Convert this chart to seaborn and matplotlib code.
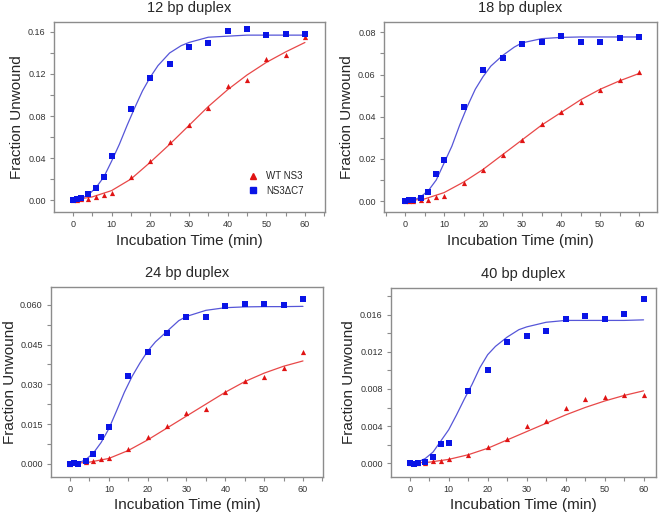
import numpy as np
import pandas as pd
import matplotlib
matplotlib.use("Agg")
import matplotlib.pyplot as plt
from matplotlib.ticker import MultipleLocator, FormatStrFormatter
from matplotlib.lines import Line2D
import seaborn as sns

# measured time points (min)
times = [0, 1, 2, 4, 6, 8, 10, 15, 20, 25, 30, 35, 40, 45, 50, 55, 60]

# fraction unwound
wt_12 = [0.0, 0.0003, 0.0006, 0.0013, 0.0025, 0.0044, 0.0063, 0.022, 0.0375, 0.055,
         0.071, 0.0876, 0.109, 0.114, 0.134, 0.138, 0.155]
dc7_12 = [0.0, 0.001, 0.002, 0.0057, 0.0114, 0.022, 0.042, 0.087, 0.116, 0.1295,
          0.1454, 0.1498, 0.1613, 0.1632, 0.1568, 0.1584, 0.1578]
wt_18 = [0.0, 0.0002, 0.0002, 0.0003, 0.0003, 0.0017, 0.0022, 0.0084, 0.0147, 0.0218,
         0.0288, 0.0367, 0.0424, 0.047, 0.0528, 0.0574, 0.0612]
dc7_18 = [0.0, 0.0003, 0.0003, 0.0016, 0.0044, 0.013, 0.0196, 0.0444, 0.0621, 0.0678,
          0.0746, 0.0756, 0.0784, 0.0756, 0.0754, 0.0772, 0.0776]
wt_24 = [0.0, 0.0005, 0.0004, 0.0008, 0.0011, 0.0019, 0.0023, 0.0055, 0.0101, 0.0141,
         0.0192, 0.0208, 0.027, 0.0311, 0.0328, 0.0361, 0.0421]
dc7_24 = [0.0, 0.0004, 0.0, 0.0011, 0.0036, 0.0101, 0.0138, 0.0332, 0.0423, 0.0493,
          0.0555, 0.0553, 0.0595, 0.0604, 0.0603, 0.060, 0.062]
wt_40 = [0.0, 0.0, 0.0, 0.00004, 0.0002, 0.0002, 0.0004, 0.0009, 0.0017, 0.0026,
         0.004, 0.0045, 0.0059, 0.0069, 0.0071, 0.0074, 0.0073]
dc7_40 = [0.0, -0.00014, 0.0, 0.0001, 0.0007, 0.0021, 0.0022, 0.0078, 0.010, 0.0131,
          0.0137, 0.0143, 0.0155, 0.0159, 0.0156, 0.0161, 0.0177]

# fitted curves
fit_t_fast = [0, 2, 4, 6, 8, 10, 12, 14, 16, 18, 20, 22, 25, 28, 30, 35, 40, 45, 50, 55, 60]
fit_t_slow = [0, 5, 10, 15, 20, 25, 30, 35, 40, 45, 50, 55, 60]

dc7_fit_12 = [0.0, 0.001, 0.005, 0.012, 0.022, 0.037, 0.053, 0.071, 0.088, 0.104, 0.117,
              0.128, 0.140, 0.147, 0.150, 0.155, 0.156, 0.157, 0.157, 0.157, 0.157]
wt_fit_12 = [0.0, 0.003, 0.009, 0.020, 0.036, 0.053, 0.071, 0.089, 0.105, 0.119, 0.131,
             0.141, 0.150]
dc7_fit_18 = [0.0, 0.0002, 0.002, 0.005, 0.010, 0.018, 0.026, 0.036, 0.045, 0.053, 0.059,
              0.064, 0.069, 0.073, 0.075, 0.077, 0.0776, 0.0778, 0.0778, 0.0778, 0.0778]
wt_fit_18 = [0.0, 0.001, 0.004, 0.009, 0.015, 0.022, 0.029, 0.036, 0.042, 0.048, 0.053,
             0.057, 0.0605]
dc7_fit_24 = [0.0, 0.0002, 0.0015, 0.004, 0.008, 0.0132, 0.020, 0.027, 0.033, 0.038, 0.0425,
              0.046, 0.050, 0.054, 0.0556, 0.0579, 0.0589, 0.0592, 0.0593, 0.0593, 0.0594]
wt_fit_24 = [0.0, 0.0006, 0.002, 0.005, 0.009, 0.0135, 0.018, 0.0225, 0.027, 0.031, 0.0342,
             0.0368, 0.0388]
dc7_fit_40 = [0.0, 0.0001, 0.0005, 0.0012, 0.0024, 0.0036, 0.0052, 0.0069, 0.0085, 0.0103,
              0.0117, 0.0126, 0.0136, 0.0144, 0.0147, 0.0152, 0.0154, 0.0154, 0.0154, 0.0154,
              0.01546]
wt_fit_40 = [0.0, 0.0001, 0.0004, 0.0009, 0.0016, 0.0025, 0.0034, 0.0043, 0.0052, 0.006,
             0.0067, 0.0073, 0.0078]

titles = ["12 bp duplex", "18 bp duplex", "24 bp duplex", "40 bp duplex"]
y_steps = [0.04, 0.02, 0.015, 0.004]
y_fmt = ["%.2f", "%.2f", "%.3f", "%.3f"]
y_lims = [(-0.0114, 0.1695), (-0.0052, 0.0849), (-0.005, 0.0667), (-0.0015, 0.0189)]
x_lims = [(-4.9, 65.2), (-5.4, 64.6), (-4.9, 65.15), (-4.8, 63.2)]
# axes boxes in figure fractions: left, bottom, width, height
boxes = [(0.0813, 0.5875, 0.4082, 0.3697), (0.5783, 0.5875, 0.4112, 0.3697),
         (0.0768, 0.0720, 0.4096, 0.3696), (0.5889, 0.0720, 0.3991, 0.3677)]

wt_pts = [wt_12, wt_18, wt_24, wt_40]
dc7_pts = [dc7_12, dc7_18, dc7_24, dc7_40]
wt_fits = [wt_fit_12, wt_fit_18, wt_fit_24, wt_fit_40]
dc7_fits = [dc7_fit_12, dc7_fit_18, dc7_fit_24, dc7_fit_40]

sns.set_style("white")
plt.rcParams["font.family"] = ["Liberation Sans", "DejaVu Sans"]

red_pt, blue_pt = "#e01414", "#0a14e6"
red_ln, blue_ln = "#e84848", "#5656d8"
spine_c = "#8c8c8c"

fig = plt.figure(figsize=(6.64, 5.14), dpi=100)

for i in range(4):
    ax = fig.add_axes(boxes[i])
    sns.lineplot(x=fit_t_slow, y=wt_fits[i], ax=ax, color=red_ln, lw=0.9)
    sns.lineplot(x=fit_t_fast, y=dc7_fits[i], ax=ax, color=blue_ln, lw=0.9)
    sns.scatterplot(x=times, y=wt_pts[i], ax=ax, marker="^", s=14, color=red_pt,
                    edgecolor=red_pt, linewidth=0, zorder=3)
    sns.scatterplot(x=times, y=dc7_pts[i], ax=ax, marker="s", s=17, color=blue_pt,
                    edgecolor=blue_pt, linewidth=0, zorder=3)

    ax.set_xlim(x_lims[i])
    ax.set_ylim(y_lims[i])
    ax.xaxis.set_major_locator(MultipleLocator(10))
    ax.xaxis.set_minor_locator(MultipleLocator(5))
    ax.yaxis.set_major_locator(MultipleLocator(y_steps[i]))
    ax.yaxis.set_minor_locator(MultipleLocator(y_steps[i] / 2))
    ax.yaxis.set_major_formatter(FormatStrFormatter(y_fmt[i]))

    for sp in ax.spines.values():
        sp.set_color(spine_c)
        sp.set_linewidth(1.0)
    ax.tick_params(axis="both", which="both", direction="out", color=spine_c,
                   length=3, width=0.8, labelsize=6.5, labelcolor="#333333", pad=3)
    ax.tick_params(bottom=True, left=True, top=False, right=False, which="both")

    ax.set_title(titles[i], fontsize=10.5, pad=7)
    ax.set_xlabel("Incubation Time (min)", fontsize=11, labelpad=3)
    ax.set_ylabel("Fraction Unwound", fontsize=11, labelpad=3 if i != 2 else 2)

    if i == 0:
        handles = [Line2D([], [], ls="", marker="^", ms=4, color=red_pt),
                   Line2D([], [], ls="", marker="s", ms=3.8, color=blue_pt)]
        ax.legend(handles, ["WT NS3", "NS3\u0394C7"], loc="lower left",
                  bbox_to_anchor=(0.68, 0.04), frameon=False, fontsize=7,
                  handletextpad=0.8, labelspacing=0.45, handlelength=1.2)

fig.savefig("out.png", dpi=100)
